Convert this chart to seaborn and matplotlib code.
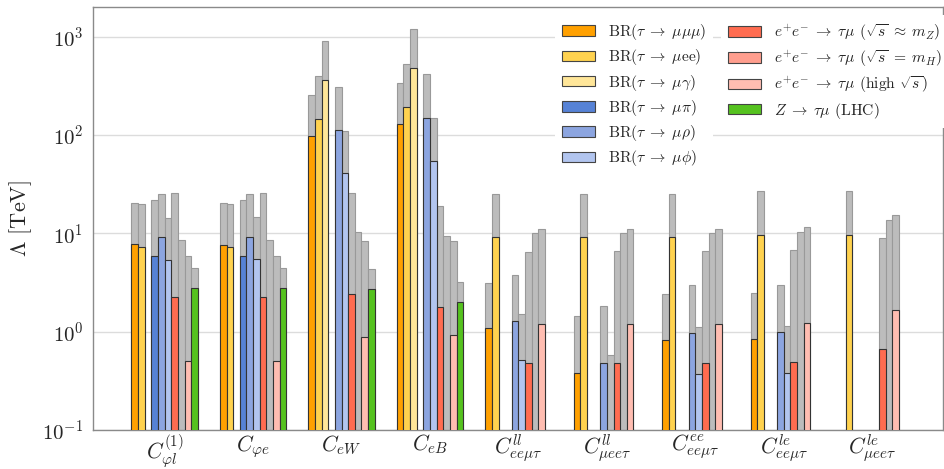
import numpy as np
import pandas as pd
import matplotlib
matplotlib.use("Agg")
import matplotlib.pyplot as plt
from matplotlib.patches import Patch
import seaborn as sns

nan = np.nan

# Wilson coefficients on the x axis
operators = [
    r"$C_{\varphi l}^{(1)}$", r"$C_{\varphi e}$", r"$C_{eW}$", r"$C_{eB}$",
    r"$C_{ee\mu\tau}^{ll}$", r"$C_{\mu ee\tau}^{ll}$", r"$C_{ee\mu\tau}^{ee}$",
    r"$C_{ee\mu\tau}^{le}$", r"$C_{\mu ee\tau}^{le}$",
]

# Observables (hue levels)
processes = [
    r"BR($\tau\;\to\;\mu\mu\mu$)", r"BR($\tau\;\to\;\mu$ee)", r"BR($\tau\;\to\;\mu\gamma$)",
    r"BR($\tau\;\to\;\mu\pi$)", r"BR($\tau\;\to\;\mu\rho$)", r"BR($\tau\;\to\;\mu\phi$)",
    r"$e^{+}e^{-}\;\to\;\tau\mu$ ($\sqrt{s}\;{\approx}\;m_Z$)",
    r"$e^{+}e^{-}\;\to\;\tau\mu$ ($\sqrt{s}\;{=}\;m_H$)",
    r"$e^{+}e^{-}\;\to\;\tau\mu$ (high $\sqrt{s}$)", r"$Z\;\to\;\tau\mu$ (LHC)",
]

colors = ["#ffa000", "#ffd24f", "#ffe699", "#5682d6", "#8ca5e0", "#b2c5ef",
          "#ff6c50", "#ff9e8e", "#ffbdb1", "#55c21f"]

# Current bounds on Lambda [TeV]
cur_mumumu = [7.8, 7.6, 96.9, 128, 1.09, 0.381, 0.83, 0.843, nan]
cur_muee = [7.3, 7.3, 145, 192, 9.12, 9.12, 9.12, 9.62, 9.62]
cur_mugamma = [nan, nan, 364, 482, nan, nan, nan, nan, nan]
cur_mupi = [5.85, 5.85, nan, nan, nan, nan, nan, nan, nan]
cur_murho = [9.2, 9.2, 113, 150, 1.28, 0.481, 0.98, 1.0, nan]
cur_muphi = [5.37, 5.5, 40.6, 54.1, 0.512, nan, 0.375, 0.381, nan]
cur_ee_mz = [2.25, 2.25, 2.41, 1.78, 0.481, 0.481, 0.481, 0.489, 0.667]
cur_ee_mh = [nan, nan, nan, nan, nan, nan, nan, nan, nan]
cur_ee_high = [0.508, 0.508, 0.883, 0.925, 1.21, 1.21, 1.21, 1.22, 1.67]
cur_z_lhc = [2.79, 2.79, 2.73, 2.01, nan, nan, nan, nan, nan]

# Projected future reach on Lambda [TeV]
fut_mumumu = [20.4, 20.3, 254, 339, 3.09, 1.45, 2.43, 2.47, nan]
fut_muee = [19.8, 19.8, 396, 528, 25.0, 25.0, 25.0, 26.7, 27.0]
fut_mugamma = [nan, nan, 911, 1205, nan, nan, nan, nan, nan]
fut_mupi = [21.8, 21.8, nan, nan, nan, nan, nan, nan, nan]
fut_murho = [24.9, 24.9, 309, 412, 3.76, 1.81, 2.95, 2.99, nan]
fut_muphi = [14.2, 14.6, 110, 147, 1.50, 0.58, 1.12, 1.15, nan]
fut_ee_mz = [25.6, 25.6, 25.8, 18.8, 6.47, 6.58, 6.58, 6.78, 8.9]
fut_ee_mh = [8.56, 8.56, 10.3, 9.33, 10.0, 10.0, 10.0, 10.3, 13.6]
fut_ee_high = [5.89, 5.89, 8.42, 8.36, 11.1, 11.1, 11.1, 11.6, 15.2]
fut_z_lhc = [4.45, 4.45, 4.38, 3.21, nan, nan, nan, nan, nan]

current = [cur_mumumu, cur_muee, cur_mugamma, cur_mupi, cur_murho, cur_muphi,
           cur_ee_mz, cur_ee_mh, cur_ee_high, cur_z_lhc]
future = [fut_mumumu, fut_muee, fut_mugamma, fut_mupi, fut_murho, fut_muphi,
          fut_ee_mz, fut_ee_mh, fut_ee_high, fut_z_lhc]

rows = []
for proc, cur, fut in zip(processes, current, future):
    for op, c, f in zip(operators, cur, fut):
        rows.append({"operator": op, "process": proc, "current": c, "future": f})
df = pd.DataFrame(rows)

sns.set_style("white")
plt.rcParams.update({
    "font.family": "serif",
    "font.serif": ["cmr10", "DejaVu Serif"],
    "mathtext.fontset": "cm",
    "axes.formatter.use_mathtext": True,
    "axes.unicode_minus": False,
})

fig = plt.figure(figsize=(9.45, 4.69), dpi=100)
ax = fig.add_axes([93 / 945, 1 - 430 / 469, 850 / 945, 423 / 469])
ax.set_yscale("log")

# future reach (grey), drawn from the bottom
sns.barplot(data=df.dropna(subset=["future"]), x="operator", y="future",
            hue="process", order=operators, hue_order=processes,
            palette=dict.fromkeys(processes, "#bcbcbc"), saturation=1,
            width=0.75, dodge=True, errorbar=None, legend=False,
            edgecolor="#999999", linewidth=0.8, zorder=2, ax=ax)
# present bounds on top
sns.barplot(data=df.dropna(subset=["current"]), x="operator", y="current",
            hue="process", order=operators, hue_order=processes,
            palette=dict(zip(processes, colors)), saturation=1,
            width=0.75, dodge=True, errorbar=None, legend=False,
            edgecolor="#333333", linewidth=0.8, zorder=3, ax=ax)

ax.set_ylim(0.1, 2000)
ax.set_xlim(-0.81, 8.8)
ax.set_xlabel("")
ax.set_ylabel(r"$\Lambda$ [TeV]", fontsize=16, labelpad=6)
ax.tick_params(axis="x", length=3, color="#888888", labelsize=15.5, pad=-1)
ax.tick_params(axis="y", which="major", labelsize=15, length=3.5, color="#888888")
ax.tick_params(axis="y", which="minor", length=2, color="#888888")
ax.yaxis.grid(True, which="major", color="#dcdcdc", lw=1)
ax.xaxis.grid(False)
ax.set_axisbelow(True)
for s in ax.spines.values():
    s.set_color("#8a8a8a")
    s.set_linewidth(1)

handles = [Patch(facecolor=c, edgecolor="#444444", lw=0.8) for c in colors]
leg_kw = dict(fontsize=11.2, frameon=True, framealpha=1, facecolor="white",
              edgecolor="none", loc="upper left", bbox_transform=fig.transFigure,
              borderaxespad=0, borderpad=0.45, handlelength=2.15, handleheight=0.65,
              handletextpad=0.8, labelspacing=0.34)
leg1 = ax.legend(handles[:6], processes[:6], bbox_to_anchor=(555 / 945, 1 - 15 / 469), **leg_kw)
ax.add_artist(leg1)
leg2 = ax.legend(handles[6:], processes[6:], bbox_to_anchor=(721 / 945, 1 - 15 / 469), **leg_kw)

fig.savefig("out.png", dpi=100)
